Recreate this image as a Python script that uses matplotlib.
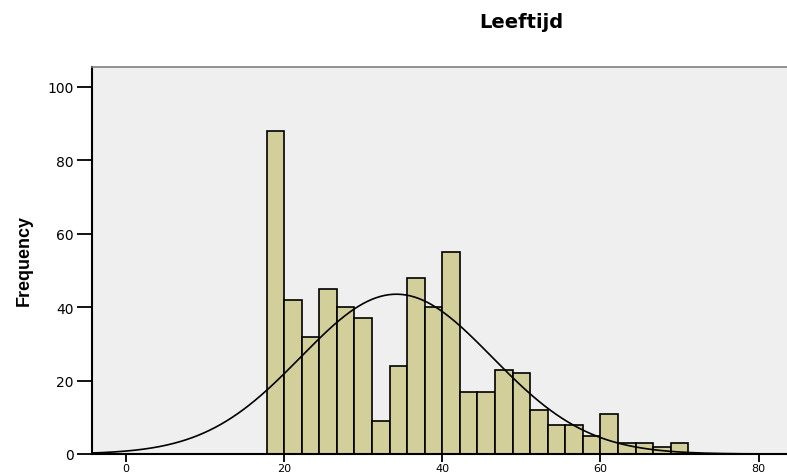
import numpy as np
import matplotlib
matplotlib.use("Agg")
import matplotlib.pyplot as plt

# histogram of Leeftijd (age), bins of 20/9 years starting at 17.78
bin_start = 20 - 20 / 9
bin_width = 20 / 9
counts = [88, 42, 32, 45, 40, 37, 9, 24, 48, 40, 55, 17,
          17, 23, 22, 12, 8, 8, 5, 11, 3, 3, 2, 3]

# fitted normal curve parameters
age_mean = 34.2
age_sd = 12.1

xticks = [0, 20, 40, 60, 80]
yticks = [0, 20, 40, 60, 80, 100]

plt.rcParams['font.family'] = ['DejaVu Sans']

fig = plt.figure(figsize=(7.87, 4.77), dpi=100)
ax = fig.add_axes([92 / 787, 1 - 455 / 477, 1.003 - 92 / 787, (455 - 68) / 477])
ax.set_facecolor('#efefef')

edges = bin_start + bin_width * np.arange(len(counts))
ax.bar(edges, counts, width=bin_width, align='edge', color='#d3cf9a',
       edgecolor='black', linewidth=1.2, zorder=2)

n = sum(counts)
xs = np.linspace(-5, 85, 500)
ys = n * bin_width / (age_sd * np.sqrt(2 * np.pi)) * np.exp(-(xs - age_mean) ** 2 / (2 * age_sd ** 2))
ax.plot(xs, ys, color='black', linewidth=1.2, zorder=3)

ax.set_xlim(-4.3, 83.9)
ax.set_ylim(0, 105.4)
ax.set_xticks(xticks)
ax.set_yticks(yticks)
ax.tick_params(axis='y', length=11, width=1.3, pad=2, labelsize=10)
ax.tick_params(axis='x', length=6, width=1.3, pad=0.5, labelsize=8)

for s in ['left', 'bottom']:
    ax.spines[s].set_linewidth(1.5)
    ax.spines[s].set_color('black')
ax.spines['top'].set_color('#808080')
ax.spines['top'].set_linewidth(1.2)
ax.spines['right'].set_visible(False)

ax.set_ylabel('Frequency', fontsize=13, fontweight='bold',
              family=['Liberation Sans Narrow', 'Liberation Sans'])
ax.yaxis.set_label_coords(33 / 787, 1 - 261 / 477, transform=fig.transFigure)
fig.text(521 / 787, 1 - 22 / 477, 'Leeftijd', ha='center', va='center',
         fontsize=14, fontweight='bold')

fig.savefig('out.png', dpi=100)
